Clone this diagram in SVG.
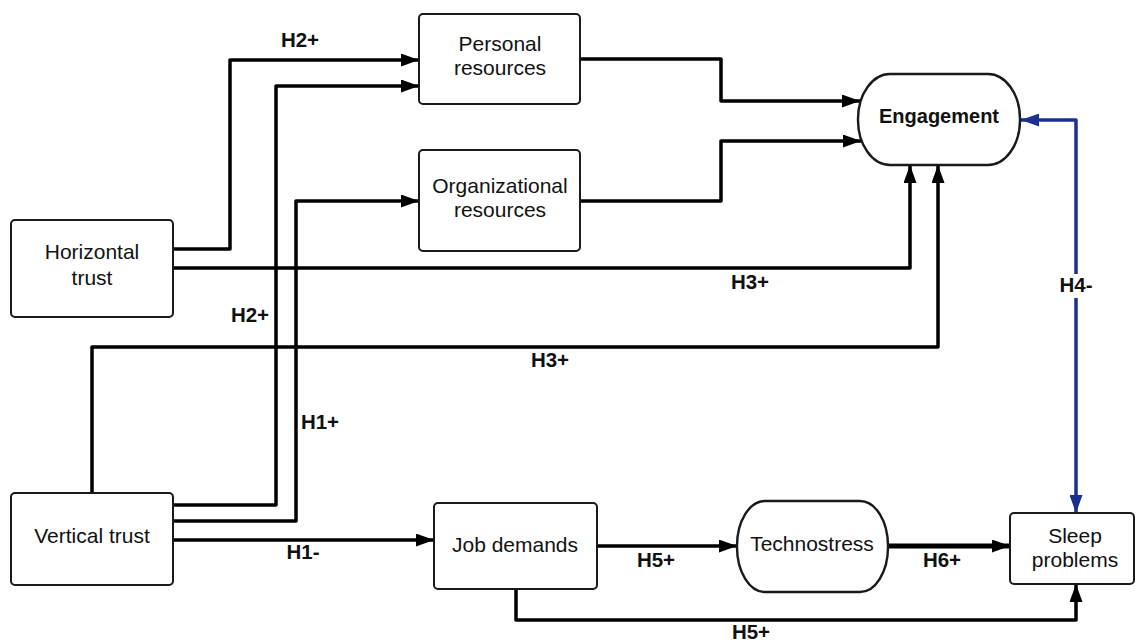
<svg xmlns="http://www.w3.org/2000/svg" width="1135" height="642" viewBox="0 0 1135 642">
<style>
.box{fill:#fff;stroke:#1a1a1a;stroke-width:2}
.t{font-family:"Liberation Sans",Arial,sans-serif;font-size:21px;fill:#111;text-anchor:middle}
.tb{font-family:"Liberation Sans",Arial,sans-serif;font-size:20.5px;font-weight:bold;fill:#111;text-anchor:middle}
.c{fill:none;stroke:#000;stroke-width:3.5;stroke-linejoin:round}
.cb{fill:none;stroke:#1b2f8f;stroke-width:3.5;stroke-linejoin:round}
</style>
<defs>
<marker id="ah" markerUnits="userSpaceOnUse" markerWidth="18" markerHeight="13" refX="18" refY="6.5" orient="auto"><path d="M0,0 L18,6.5 L0,13 z" fill="#000"/></marker>
<marker id="ahb" markerUnits="userSpaceOnUse" markerWidth="18" markerHeight="13" refX="18" refY="6.5" orient="auto-start-reverse"><path d="M0,0 L18,6.5 L0,13 z" fill="#1b2f8f"/></marker>
</defs>
<rect width="1135" height="642" fill="#fff"/>
<g id="connectors">
<path class="c" d="M173,249 H230 V60 H419" marker-end="url(#ah)"/>
<path class="c" d="M173,505 H276 V86 H419" marker-end="url(#ah)"/>
<path class="c" d="M173,521 H296 V201 H419" marker-end="url(#ah)"/>
<path class="c" d="M173,540 H434" marker-end="url(#ah)"/>
<path class="c" d="M173,268 H910 V165" marker-end="url(#ah)"/>
<path class="c" d="M92,493 V347 H938 V165" marker-end="url(#ah)"/>
<path class="c" d="M580,59 H721 V101 H860" marker-end="url(#ah)"/>
<path class="c" d="M580,201 H721 V141 H861" marker-end="url(#ah)"/>
<path class="cb" d="M1021,120 H1076 V513" marker-start="url(#ahb)" marker-end="url(#ahb)"/>
<path class="c" d="M597,546 H737" marker-end="url(#ah)"/>
<path class="c" d="M888,546 H1010" style="stroke-width:5" marker-end="url(#ah)"/>
<path class="c" d="M516,589 V620 H1076 V584" marker-end="url(#ah)"/>
<rect x="1055" y="274" width="42" height="24" fill="#fff"/>
<text class="tb" x="300" y="47">H2+</text>
<text class="tb" x="250" y="322">H2+</text>
<text class="tb" x="320" y="429">H1+</text>
<text class="tb" x="303" y="559">H1-</text>
<text class="tb" x="750" y="289">H3+</text>
<text class="tb" x="550" y="367">H3+</text>
<text class="tb" x="1076" y="292">H4-</text>
<text class="tb" x="656" y="567">H5+</text>
<text class="tb" x="942" y="567">H6+</text>
<text class="tb" x="751" y="639">H5+</text>
</g>
<g id="personal">
<rect class="box" x="419" y="14" width="161" height="90" rx="4"/>
<text class="t" x="500" y="51">Personal</text>
<text class="t" x="500" y="75">resources</text>
</g>
<g id="organizational">
<rect class="box" x="419" y="150" width="161" height="101" rx="4"/>
<text class="t" x="500" y="193">Organizational</text>
<text class="t" x="500" y="217">resources</text>
</g>
<g id="horizontal">
<rect class="box" x="11" y="220" width="162" height="97" rx="4"/>
<text class="t" x="92" y="259">Horizontal</text>
<text class="t" x="92" y="285">trust</text>
</g>
<g id="vertical">
<rect class="box" x="11" y="493" width="162" height="92" rx="4"/>
<text class="t" x="92" y="543">Vertical trust</text>
</g>
<g id="engagement">
<rect class="box" x="858" y="74" width="162" height="91" rx="32" ry="45" style="stroke-width:2.4"/>
<text class="tb" x="939" y="123" style="font-size:20px">Engagement</text>
</g>
<g id="jobdemands">
<rect class="box" x="434" y="503" width="163" height="86" rx="4"/>
<text class="t" x="515" y="552">Job demands</text>
</g>
<g id="technostress">
<rect class="box" x="737" y="501" width="151" height="91" rx="28" ry="45" style="stroke-width:2.4"/>
<text class="t" x="812" y="551">Technostress</text>
</g>
<g id="sleep">
<rect class="box" x="1010" y="513" width="124" height="71" rx="4"/>
<text class="t" x="1075" y="543">Sleep</text>
<text class="t" x="1075" y="567">problems</text>
</g>
</svg>
